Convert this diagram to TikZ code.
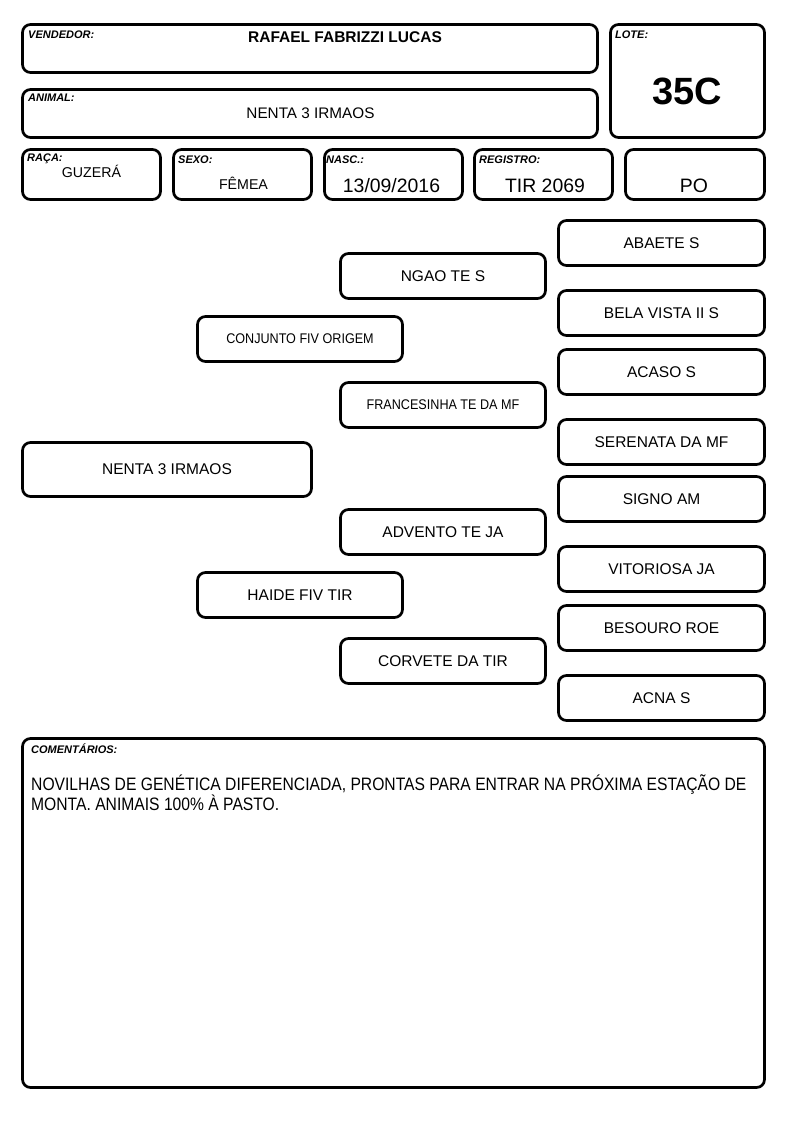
\documentclass[tikz,border=0pt]{standalone}
\usepackage{fontspec}
\setmainfont{Liberation Sans}
\newfontfamily\estreito[FakeStretch=0.87]{Liberation Sans}
\newfontfamily\meioestreito[FakeStretch=0.9]{Liberation Sans}
\usetikzlibrary{positioning}

\tikzset{
  caixa/.style={draw, line width=2.7pt, rounded corners=8pt, inner sep=0pt},
  rotulo/.style={anchor=base west, inner sep=0pt, font=\fontsize{11}{12}\selectfont\bfseries\itshape},
  valor/.style={anchor=base, inner sep=0pt},
  geneal/.style={caixa, minimum width=205pt, minimum height=45pt, font=\fontsize{15.5}{18}\selectfont},
}

\begin{document}
\begin{tikzpicture}[x=1pt, y=-1pt]
          \useasboundingbox (0,0) rectangle (794,1123);

          % cabecalho
          \node[caixa, minimum width=575pt, minimum height=48pt] (vendedor) at (310,48.5) {};
          \node[caixa, minimum width=575pt, minimum height=48pt] (animal) at (310,113.5) {};
          \node[caixa, minimum width=154pt, minimum height=113pt] (lote) at (687.5,81) {};
          \node[caixa, minimum width=138pt, minimum height=50pt] (raca) at (91.5,174.5) {};
          \node[caixa, minimum width=138pt, minimum height=50pt] (sexo) at (242.5,174.5) {};
          \node[caixa, minimum width=138pt, minimum height=50pt] (nasc) at (393.5,174.5) {};
          \node[caixa, minimum width=138pt, minimum height=50pt] (registro) at (543.5,174.5) {};
          \node[caixa, minimum width=139pt, minimum height=50pt] (po) at (695,174.5) {};

          \node[rotulo] (rvendedor) at (28,39) {VENDEDOR:};
          \node[rotulo] (ranimal) at (28,102) {ANIMAL:};
          \node[rotulo] (rlote) at (615,39) {LOTE:};
          \node[rotulo] (rraca) at (27,162) {RAÇA:};
          \node[rotulo] (rsexo) at (178,164) {SEXO:};
          \node[rotulo] (rnasc) at (326,164) {NASC.:};
          \node[rotulo] (rregistro) at (479,164) {REGISTRO:};

          \node[valor, font=\fontsize{15.5}{18}\selectfont\bfseries] (tvendedor) at (345,43) {RAFAEL FABRIZZI LUCAS};
          \node[valor, font=\fontsize{15.3}{18}\selectfont] (tanimal) at (310.5,119) {NENTA 3 IRMAOS};
          \node[valor, font=\fontsize{38}{40}\selectfont\bfseries] (tlote) at (687,105) {35C};
          \node[valor, font=\fontsize{14.2}{16}\selectfont] (traca) at (91.5,178) {GUZERÁ};
          \node[valor, font=\fontsize{14.2}{16}\selectfont] (tsexo) at (243.5,190) {FÊMEA};
          \node[valor, font=\fontsize{19.4}{22}\selectfont] (tnasc) at (391.5,193) {13/09/2016};
          \node[valor, font=\fontsize{19.4}{22}\selectfont] (tregistro) at (545,193) {TIR 2069};
          \node[valor, font=\fontsize{19.4}{22}\selectfont] (tpo) at (694,193) {PO};

          % genealogia
          \node[geneal, minimum width=289pt, minimum height=54pt] (filho) at (167,469.5) {NENTA 3 IRMAOS};
          \node[geneal, font=\fontsize{14}{16}\selectfont\meioestreito] (pai) at (300,339) {CONJUNTO FIV ORIGEM};
          \node[geneal] (mae) at (300,595) {HAIDE FIV TIR};
          \node[geneal] (avopat) at (443,276) {NGAO TE S};
          \node[geneal, font=\fontsize{14}{16}\selectfont\meioestreito] (avapat) at (443,405) {FRANCESINHA TE DA MF};
          \node[geneal] (avomat) at (443,532) {ADVENTO TE JA};
          \node[geneal] (avamat) at (443,661) {CORVETE DA TIR};

          \foreach \nome/\y/\texto in {b1/243/ABAETE S, b2/313/BELA VISTA II S, b3/372/ACASO S,
                    b4/442/SERENATA DA MF, b5/499/SIGNO AM, b6/569/VITORIOSA JA,
                    b7/628/BESOURO ROE, b8/698/ACNA S}
            \node[geneal, minimum width=206pt] (\nome) at (661.5,\y) {\texto};

          % comentarios
          \node[caixa, minimum width=742pt, minimum height=349pt] (comentarios) at (393.5,913) {};
          \node[rotulo] (rcomentarios) at (31,753) {COMENTÁRIOS:};
          \node[anchor=north west, inner sep=0pt, align=left,
                font=\fontsize{18}{18.5}\selectfont\estreito] (tcomentarios) at (31,774)
                {NOVILHAS DE GENÉTICA DIFERENCIADA, PRONTAS PARA ENTRAR NA PRÓXIMA ESTAÇÃO DE\\
                 MONTA. ANIMAIS 100\% À PASTO.};

        \end{tikzpicture}
\end{document}
